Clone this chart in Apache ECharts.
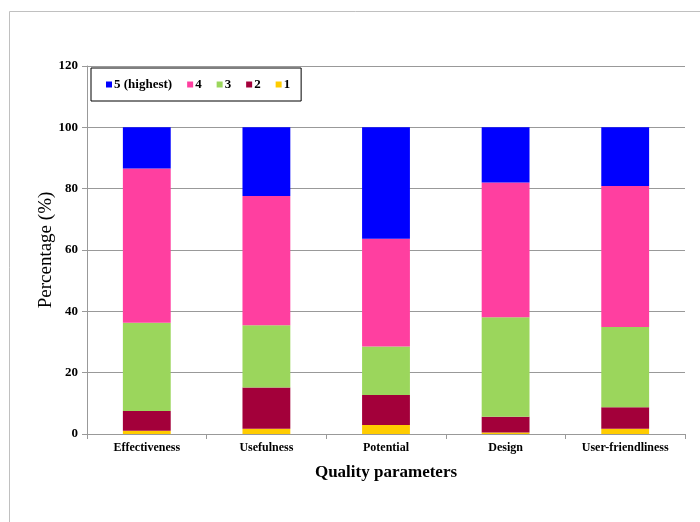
<!DOCTYPE html>
<html>
<head>
<meta charset="utf-8">
<script src="https://cdn.jsdelivr.net/npm/echarts@6/dist/echarts.min.js"></script>
<style>html,body{margin:0;padding:0;background:#fff}#c{width:700px;height:522px}</style>
</head>
<body>
<div id="c"></div>
<script>
const categories = ['Effectiveness', 'Usefulness', 'Potential', 'Design', 'User-friendliness'];
const score1 = [1.1, 1.7, 2.9, 0.5, 1.7];
const score2 = [6.4, 13.5, 9.8, 5.1, 7.0];
const score3 = [28.8, 20.3, 15.8, 32.5, 26.2];
const score4 = [50.3, 42.1, 35.2, 43.9, 46.0];
const score5 = [13.4, 22.4, 36.3, 18.0, 19.1];
const seriesNames = ['1', '2', '3', '4', '5 (highest)'];
const yTicks = [0, 20, 40, 60, 80, 100, 120];

const colors = {'1': '#FFCC00', '2': '#A3003A', '3': '#9BD65C', '4': '#FF3FA0', '5 (highest)': '#0000FF'};
const values = [score1, score2, score3, score4, score5];
const font = 'Liberation Serif';

const chart = echarts.init(document.getElementById('c'));
chart.setOption({
  animation: false,
  backgroundColor: '#fff',
  graphic: [{
    type: 'rect', silent: true, z: -1,
    shape: {x: 9.5, y: 11.5, width: 720, height: 540},
    style: {fill: 'none', stroke: '#c0c0c0', lineWidth: 1}
  }],
  legend: {
    data: ['5 (highest)', '4', '3', '2', '1'],
    left: 91, top: 68,
    orient: 'horizontal',
    icon: 'rect', itemWidth: 6, itemHeight: 6, itemGap: 15,
    borderColor: '#000', borderWidth: 1,
    padding: [10, 11, 10, 15],
    textStyle: {fontFamily: font, fontWeight: 'bold', fontSize: 13, color: '#000', padding: [0, 0, 0, -3]}
  },
  grid: {left: 87, right: 15, top: 66, bottom: 88},
  xAxis: {
    type: 'category',
    data: categories,
    name: 'Quality parameters', nameLocation: 'middle', nameGap: 30,
    nameMoveOverlap: false,
    nameTextStyle: {fontFamily: font, fontWeight: 'bold', fontSize: 17, color: '#000'},
    axisLine: {lineStyle: {color: '#999', width: 1}},
    axisTick: {show: true, length: 5, lineStyle: {color: '#999'}},
    axisLabel: {fontFamily: font, fontWeight: 'bold', fontSize: 12, color: '#000', margin: 8}
  },
  yAxis: {
    type: 'value', min: yTicks[0], max: yTicks[yTicks.length - 1], interval: 20,
    name: 'Percentage (%)', nameLocation: 'middle', nameGap: 31, nameRotate: 90,
    nameMoveOverlap: false,
    nameTextStyle: {fontFamily: font, fontSize: 19, color: '#000'},
    axisLine: {show: true, lineStyle: {color: '#999', width: 1}},
    axisTick: {show: true, length: 5, lineStyle: {color: '#999'}},
    axisLabel: {fontFamily: font, fontWeight: 'bold', fontSize: 13, color: '#000', margin: 9},
    splitLine: {show: true, lineStyle: {color: '#999', width: 1}}
  },
  series: seriesNames.map((n, i) => ({
    name: n, type: 'bar', stack: 'total', barWidth: '40%',
    itemStyle: {color: colors[n]},
    data: values[i]
  }))
});
</script>
</body>
</html>
